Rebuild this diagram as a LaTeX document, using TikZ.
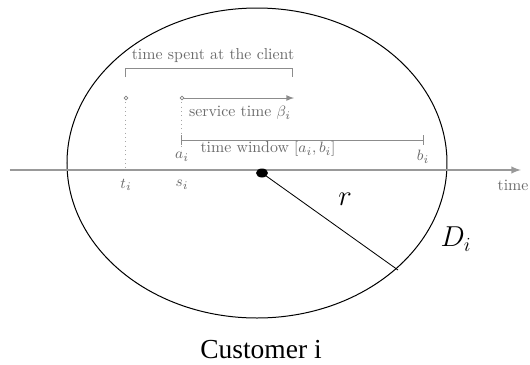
\documentclass[tikz,border=0pt]{standalone}
\usepackage{amsmath,amssymb}
\usepackage{fontspec}
\usepackage{tikz}
\newfontfamily\custfont{Liberation Serif}
\definecolor{winegray}{HTML}{6A6A6A}
\tikzset{
  custzone/.style={draw=black,line width=0.6pt},
  custaxis/.style={-latex,draw=gray!80,line width=1pt},
  custline/.style={draw=gray!90,line width=0.6pt},
  custdots/.style={draw=gray!70,dotted,line width=0.6pt},
  custlabel/.style={text=winegray,font=\fontsize{9.5}{11}\selectfont,inner sep=1pt},
  custmark/.style={draw=gray,fill=white,line width=0.4pt},
  every picture/.style={font=\small}
}

\begin{document}
\begin{tikzpicture}[x=0.6pt,y=-0.6pt]
  \useasboundingbox (0,0) rectangle (530,364);
  % disc of the customer
  \draw[custzone] (257,163) ellipse [x radius=190,y radius=155];
  \draw[custaxis] (10,170)--(521,170);
  \node[custlabel] (time) at (513,185) {time};
  \coordinate (cen) at (262,173);
  \coordinate (rim) at (398,270);
  \draw[line width=0.5pt] (cen)--(rim);
  \fill (cen) ellipse [x radius=6,y radius=4.5];
  \node[font=\fontsize{17}{20}\selectfont] (r) at (345,199) {$r$};
  \node[font=\fontsize{17}{20}\selectfont] (D) at (456,239) {$D_i$};
  % times on the axis
  \node[custlabel] (ti) at (126,185) {$t_i$};
  \node[custlabel] (si) at (182,185) {$s_i$};
  \node[custlabel] (ai) at (182,157) {$a_i$};
  \node[custlabel] (bi) at (423,157) {$b_i$};
  \draw[custdots] (126,98)--(126,170);
  \draw[custdots] (182,98)--(182,150);
  \draw[custmark] (126,98) circle (1.8);
  \draw[custmark] (182,98) circle (1.8);
  % service time
  \draw[custline,-latex] (184,98)--(294,98);
  \node[custlabel] (serv) at (240,113) {service time $\beta_i$};
  % time spent
  \draw[custline] (126,77)--(126,68)--(293,68)--(293,77);
  \node[custlabel] (spent) at (213,56) {time spent at the client};
  % time window
  \draw[custline] (182,135)--(182,145) (182,140)--(424,140) (424,135)--(424,145);
  \node[custlabel] (win) at (268,149) {time window $[a_i,b_i]$};
  \node[font=\custfont\fontsize{16.5}{20}\selectfont] (cust) at (261,350) {Customer i};
\end{tikzpicture}
\end{document}
